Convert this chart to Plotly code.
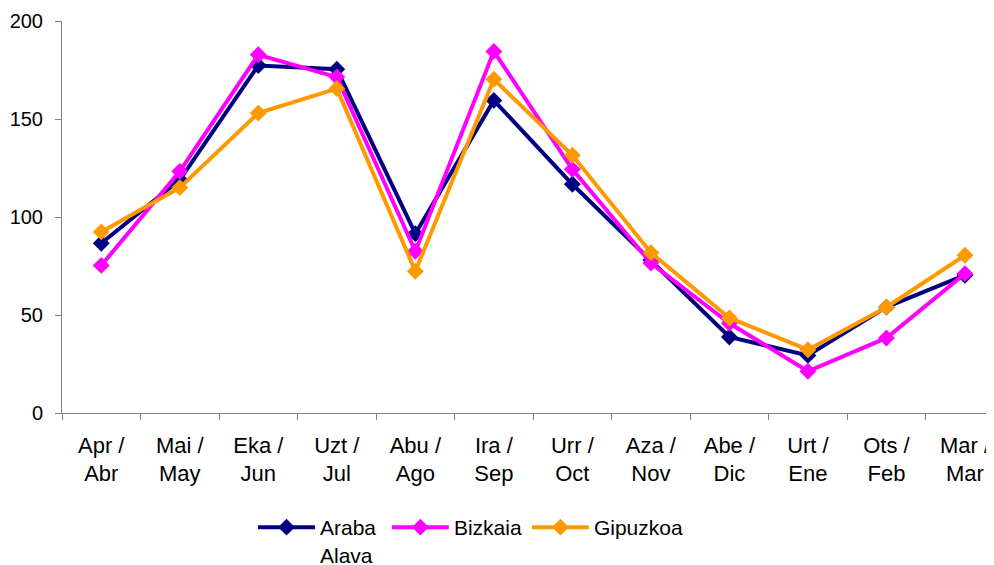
import plotly.graph_objects as go

categories = ["Apr / Abr", "Mai / May", "Eka / Jun", "Uzt / Jul", "Abu / Ago", "Ira / Sep",
              "Urr / Oct", "Aza / Nov", "Abe / Dic", "Urt / Ene", "Ots / Feb", "Mar / Mar"]
line1 = [c.split(" / ")[0] + " /" for c in categories]
line2 = [c.split(" / ")[1] for c in categories]

araba = [86.6, 119, 177.3, 175.4, 91.5, 159.5, 116.7, 78, 38.8, 29.4, 54, 70.3]
bizkaia = [75.3, 123.3, 182.8, 171.4, 82.5, 184.5, 124.3, 76.5, 45.8, 21.3, 38.3, 71.1]
gipuzkoa = [92.4, 115, 153, 165.5, 72.3, 170.3, 131.5, 81.8, 48.5, 32.3, 54, 80.5]

series = [("Araba\u00a0<br>Alava", araba, "#000080"),
          ("Bizkaia", bizkaia, "#FF00FF"),
          ("Gipuzkoa", gipuzkoa, "#FF9900")]

fig = go.Figure()
for name, vals, col in series:
    fig.add_trace(go.Scatter(
        x=categories, y=vals, name=name, mode="lines+markers",
        line=dict(color=col, width=4),
        marker=dict(symbol="diamond", size=13, color=col),
    ))
# empty helper trace so the second-line label axis is drawn
fig.add_trace(go.Scatter(x=[], y=[], xaxis="x2", yaxis="y", showlegend=False,
                         hoverinfo="skip", mode="markers"))

H = 565
font_family = "Liberation Sans, Arial, sans-serif"
xr = [-0.5, 11.37]
fig.update_layout(
    width=986, height=H,
    margin=dict(l=54, r=0, t=13, b=H - 13 - 392),
    plot_bgcolor="white", paper_bgcolor="white",
    font=dict(family=font_family, size=20, color="black"),
    showlegend=True,
    legend=dict(orientation="h", xref="container", x=245 / 986, xanchor="left",
                yref="container", y=1 - 499 / H, yanchor="top",
                font=dict(size=21), bgcolor="rgba(0,0,0,0)", valign="top",
                itemwidth=57),
    xaxis=dict(type="category", range=xr, showline=True, linecolor="#808080", linewidth=1,
               ticks="outside", tickson="boundaries", ticklen=6, tickcolor="#808080",
               tickvals=categories, ticktext=line1, showgrid=False, zeroline=False,
               tickfont=dict(size=22), ticklabelstandoff=13, automargin=False),
    xaxis2=dict(type="linear", overlaying="x", side="bottom", anchor="y", range=xr,
                tickmode="array", tickvals=list(range(len(categories))), ticktext=line2,
                showline=False, ticks="", showgrid=False, zeroline=False,
                tickfont=dict(size=22), ticklabelstandoff=45, automargin=False),
    yaxis=dict(range=[0, 200], tickvals=[0, 50, 100, 150, 200], showline=True,
               linecolor="#808080", linewidth=1, ticks="outside", ticklen=6,
               tickcolor="#808080", showgrid=False, zeroline=False,
               tickfont=dict(size=20), ticklabelstandoff=8, automargin=False),
)
fig.write_html("out.html")
